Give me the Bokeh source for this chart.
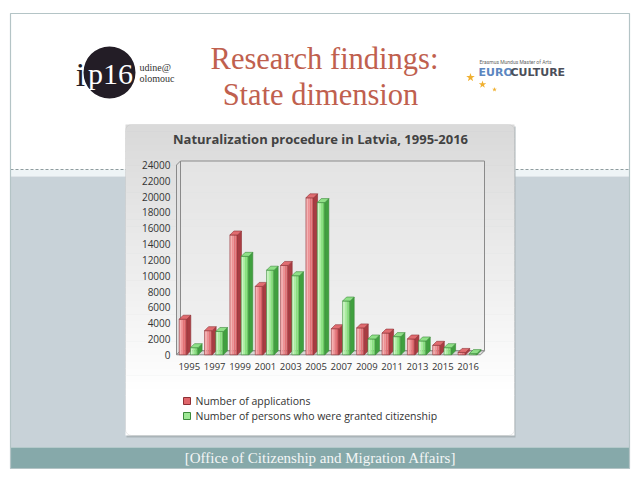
import numpy as np
from bokeh.plotting import figure
from bokeh.models import Range1d, BoxAnnotation
from bokeh.embed import file_html
from bokeh.resources import INLINE
from bokeh.core.properties import value

# ---------------- data ----------------
years = ["1995", "1997", "1999", "2001", "2003", "2005", "2007", "2009", "2011", "2013", "2015", "2016"]
applications = [4500, 3050, 15150, 8650, 11300, 19850, 3300, 3400, 2750, 2000, 1200, 300]
granted = [900, 2950, 12450, 10700, 10000, 19250, 6800, 2000, 2300, 1750, 900, 150]
y_ticks = [0, 2000, 4000, 6000, 8000, 10000, 12000, 14000, 16000, 18000, 20000, 22000, 24000]
series_names = ["Number of applications", "Number of persons who were granted citizenship"]
chart_title = "Naturalization procedure in Latvia, 1995-2016"
slide_title = ["Research findings:", "State dimension"]
source_note = "[Office of Citizenship and Migration Affairs]"

# ---------------- layout (screen pixels) ----------------
W, H = 640, 480
y0_px, ytop_px = 354.3, 164.5           # screen y of value 0 and value 24000
x0_px, step_px = 188.8, 25.35           # screen x of first category centre, spacing
k = 24000 / (y0_px - ytop_px)           # value per pixel
DX, DY = 4.0, 4.0                        # 3d depth offset in pixels

p = figure(width=W, height=H, x_range=Range1d(0, W), y_range=Range1d(H, 0),
           x_axis_type=None, y_axis_type=None, toolbar_location=None,
           output_backend="svg", min_border=0, outline_line_color=None,
           background_fill_color="white", border_fill_color="white")
p.title.visible = False
p.grid.visible = False

p.extra_x_ranges = {"cat": Range1d(-x0_px / step_px, (W - x0_px) / step_px)}
p.extra_y_ranges = {"val": Range1d(-(H - y0_px) * k, 24000 + ytop_px * k)}

# ---------------- slide background ----------------
p.quad(left=10, right=629, top=13, bottom=169, fill_color="white", line_color=None)
p.quad(left=10, right=629, top=169, bottom=176, fill_color="#eef4f6", line_color=None)
p.quad(left=10, right=629, top=176, bottom=447, fill_color="#c8d2d8", line_color=None)
p.quad(left=10, right=629, top=447, bottom=468, fill_color="#86a9aa", line_color=None)
p.segment(x0=10, y0=169, x1=629, y1=169, line_color="#8f9c9f", line_width=1, line_dash="3 2")
p.quad(left=10, right=629, top=13, bottom=468, fill_color=None, line_color="#b4c4c6", line_width=1.2)

p.text(x=[320], y=[457.5], text=[source_note], text_font=value("Liberation Serif"),
       text_font_size="15px", text_color="#f4f6f6", text_align="center", text_baseline="middle")

# slide title
p.text(x=[324, 320], y=[58, 94], text=slide_title, text_font=value("Liberation Serif"),
       text_font_size="30.5px", text_color="#c0604e", text_align="center", text_baseline="middle")

# ip16 logo
p.circle(x=[109], y=[72], radius=26, fill_color="#231d26", line_color=None)
p.text(x=[110], y=[73], text=["p16"], text_font=value("Liberation Serif"), text_font_size="30px",
       text_color="white", text_align="center", text_baseline="middle")
p.text(x=[80], y=[74], text=["i"], text_font=value("Liberation Serif"), text_font_size="34px",
       text_color="#231d26", text_align="center", text_baseline="middle")
p.text(x=[139, 139], y=[67, 78], text=["udine@", "olomouc"], text_font=value("Liberation Serif"),
       text_font_size="10px", text_color="#333333", text_align="left", text_baseline="middle")

# Euroculture logo
p.text(x=[515], y=[61], text=["Erasmus Mundus Master of Arts"], text_font=value("Roboto"),
       text_font_size="5px", text_color="#666666", text_align="center", text_baseline="middle")
p.text(x=[478], y=[72], text=["EURO"], text_font=value("DejaVu Sans"), text_font_style="bold",
       text_font_size="11px", text_color="#5b86c0", text_align="left", text_baseline="middle")
p.text(x=[510], y=[72], text=["CULTURE"], text_font=value("DejaVu Sans"), text_font_style="bold",
       text_font_size="11px", text_color="#4c4f5a", text_align="left", text_baseline="middle")
p.scatter(x=[470, 482, 494], y=[77, 84, 89], size=[9, 8, 5], marker="star",
          fill_color="#f0b030", line_color=None)

# ---------------- chart panel ----------------
pl, pr, pt, pb = 125, 514, 124, 435
p.quad(left=pl + 1, right=pr + 1, top=pt + 2, bottom=pb + 2, fill_color="#aab4b8", line_color=None)
nb = 40
g_top, g_bot = 124, 395
edges = np.linspace(g_top, g_bot, nb + 1)
c1 = np.array([0xda, 0xda, 0xda])
c2 = np.array([0xff, 0xff, 0xff])
cols = ["#%02x%02x%02x" % tuple(int(v) for v in (c1 + (c2 - c1) * (i / (nb - 1)))) for i in range(nb)]
p.quad(left=pl, right=pr, top=pb, bottom=g_bot, fill_color="white", line_color=None)
p.quad(left=[pl] * nb, right=[pr] * nb, top=edges[:-1], bottom=edges[1:] + 0.5,
       fill_color=cols, line_color=None)
p.add_layout(BoxAnnotation(left=pl, right=pr, top=pt, bottom=pb, fill_color=None,
                           line_color="#b8b8b8", line_width=1, border_radius=6))

p.text(x=[320], y=[138], text=[chart_title], text_font=value("Open Sans"), text_font_style="bold",
       text_font_size="13px", text_color="#424242", text_align="center", text_baseline="middle")

# wall / floor (3d frame)
wl, wr = 176, 480
dyv = DY * k
p.patch(x=[wl + DX, wr + DX, wr + DX, wl + DX], y=[24000 + dyv, 24000 + dyv, dyv, dyv],
        y_range_name="val", fill_color="#eaeaea", fill_alpha=0.5, line_color="#8a8a8a", line_width=1)
p.patch(x=[wl, wl + DX, wl + DX, wl], y=[0, dyv, 24000 + dyv, 24000], y_range_name="val",
        fill_color="#e2e2e2", line_color="#8a8a8a", line_width=1)
p.patch(x=[wl, wr, wr + DX, wl + DX], y=[0, 0, dyv, dyv], y_range_name="val",
        fill_color="#d8d8d8", line_color="#8a8a8a", line_width=1)

# y tick labels
p.text(x=[170] * len(y_ticks), y=y_ticks, text=[str(t) for t in y_ticks], y_range_name="val",
       text_font=value("Open Sans"), text_font_size="10px", text_color="#333333",
       text_align="right", text_baseline="middle")

# ---------------- bars ----------------
idx = np.arange(len(years), dtype=float)
bw = 7.6 / step_px
dxu = DX / step_px


def bars(vals, offset_px, front_cols, side_col, top_col, edge_col):
    vals = np.array(vals, dtype=float)
    left = idx + offset_px / step_px - bw / 2
    right = left + bw
    n = len(front_cols)
    for j, c in enumerate(front_cols):
        p.quad(left=left + bw * j / n, right=left + bw * (j + 1) / n, bottom=0, top=vals,
               x_range_name="cat", y_range_name="val", fill_color=c, line_color=None)
    p.quad(left=left, right=right, bottom=0, top=vals, x_range_name="cat", y_range_name="val",
           fill_color=None, line_color=edge_col, line_width=0.6)
    xs_side = [[r, r + dxu, r + dxu, r] for r in right]
    ys_side = [[0, dyv, v + dyv, v] for v in vals]
    p.patches(xs=xs_side, ys=ys_side, x_range_name="cat", y_range_name="val",
              fill_color=side_col, line_color=edge_col, line_width=0.6)
    xs_top = [[l, r, r + dxu, l + dxu] for l, r in zip(left, right)]
    ys_top = [[v, v, v + dyv, v + dyv] for v in vals]
    p.patches(xs=xs_top, ys=ys_top, x_range_name="cat", y_range_name="val",
              fill_color=top_col, line_color=edge_col, line_width=0.6)


bars(applications, -6.3, ["#f7b1b2", "#ef9194", "#e27377", "#d35d62"], "#a93c42", "#e06c70", "#8e3035")
bars(granted, 5.0, ["#cdf6c6", "#aaee9f", "#89e07f", "#6ccb63"], "#40a03f", "#8fe087", "#3b8a3a")

# x labels
p.text(x=idx, y=[366] * len(years), text=years, x_range_name="cat",
       text_font=value("Open Sans"), text_font_size="9.5px", text_color="#333333",
       text_align="center", text_baseline="middle")

# legend
p.quad(left=[183, 183], right=[190, 190], top=[397, 412], bottom=[404, 419],
       fill_color=["#e0666b", "#9ee895"], line_color=["#8e3035", "#3b8a3a"], line_width=1)
p.text(x=[195, 195], y=[400.5, 415.5], text=series_names, text_font=value("Open Sans"),
       text_font_size="10.5px", text_color="#333333", text_align="left", text_baseline="middle")

open("out.html", "w").write(file_html(p, INLINE))
